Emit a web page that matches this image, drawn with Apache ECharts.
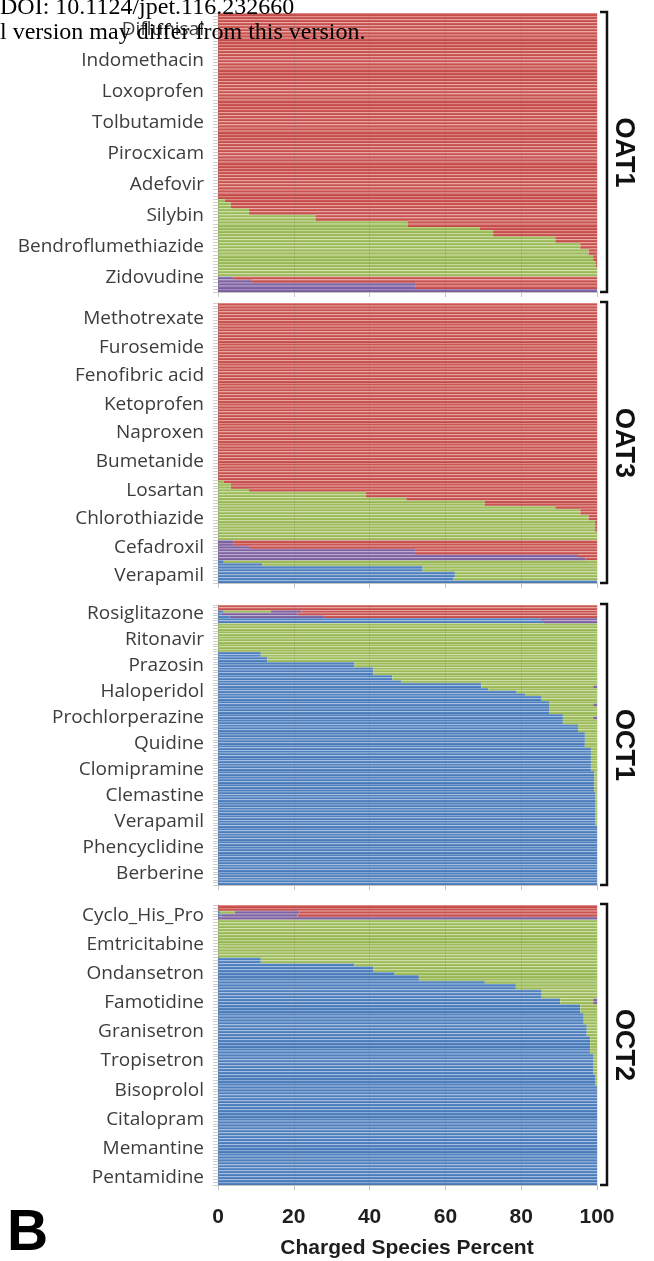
<!DOCTYPE html>
<html>
<head>
<meta charset="utf-8">
<script src="https://cdn.jsdelivr.net/npm/echarts@6/dist/echarts.min.js"></script>
<style>
  html, body { margin: 0; padding: 0; background: #ffffff; }
  #chart { width: 654px; height: 1261px; }
</style>
</head>
<body>
<div id="chart"></div>
<script>
// ---- Charged species percent per compound, one row per compound (top to bottom) ----
// Species order across each bar: cation, neutral, zwitterion, anion.

// OAT1 (90 compounds)
const oat1Labels = ['Diflunisal', 'Indomethacin', 'Loxoprofen', 'Tolbutamide', 'Pirocxicam',
  'Adefovir', 'Silybin', 'Bendroflumethiazide', 'Zidovudine'];
const oat1LabelStart = 5;
const oat1Cation = [
  0,0,0,0,0,0,0,0,0,0, 0,0,0,0,0,0,0,0,0,0, 0,0,0,0,0,0,0,0,0,0,
  0,0,0,0,0,0,0,0,0,0, 0,0,0,0,0,0,0,0,0,0, 0,0,0,0,0,0,0,0,0,0,
  0,0,0,0,0,0,0,0,0,0, 0,0,0,0,0,0,0,0,0,0, 0,0,0,0,0,0,0,0,0,0
];
const oat1Neutral = [
  0,0,0,0,0,0,0,0,0,0, 0,0,0,0,0,0,0,0,0,0, 0,0,0,0,0,0,0,0,0,0,
  0,0,0,0,0,0,0,0,0,0, 0,0,0,0,0,0,0,0,0,0, 0,0,0,0,0,0,0,0,0,0,
  1.8,3.4,3.4,8.2,8.2,25.7,25.7,50,50,69,
  72.6,72.6,89,89,95.6,95.6,97.8,97.8,99,99,
  99.6,99.6,100,100,100,0,0,0,0,0
];
const oat1Zwitterion = [
  0,0,0,0,0,0,0,0,0,0, 0,0,0,0,0,0,0,0,0,0, 0,0,0,0,0,0,0,0,0,0,
  0,0,0,0,0,0,0,0,0,0, 0,0,0,0,0,0,0,0,0,0, 0,0,0,0,0,0,0,0,0,0,
  0,0,0,0,0,0,0,0,0,0, 0,0,0,0,0,0,0,0,0,0,
  0,0,0,0,0,4,9,52,52,100
];
const oat1Anion = [
  100,100,100,100,100,100,100,100,100,100, 100,100,100,100,100,100,100,100,100,100,
  100,100,100,100,100,100,100,100,100,100, 100,100,100,100,100,100,100,100,100,100,
  100,100,100,100,100,100,100,100,100,100, 100,100,100,100,100,100,100,100,100,100,
  98.2,96.6,96.6,91.8,91.8,74.3,74.3,50,50,31,
  27.4,27.4,11,11,4.4,4.4,2.2,2.2,1,1,
  0.4,0.4,0,0,0,96,91,48,48,0
];

// OAT3 (98 compounds)
const oat3Labels = ['Methotrexate', 'Furosemide', 'Fenofibric acid', 'Ketoprofen', 'Naproxen',
  'Bumetanide', 'Losartan', 'Chlorothiazide', 'Cefadroxil', 'Verapamil'];
const oat3LabelStart = 5;
const oat3Cation = [
  0,0,0,0,0,0,0,0,0,0, 0,0,0,0,0,0,0,0,0,0, 0,0,0,0,0,0,0,0,0,0,
  0,0,0,0,0,0,0,0,0,0, 0,0,0,0,0,0,0,0,0,0, 0,0,0,0,0,0,0,0,0,0,
  0,0,0,0,0,0,0,0,0,0, 0,0,0,0,0,0,0,0,0,0, 0,0,0,0,0,0,0,0,0,0,
  1.5,11.7,54,54,62.5,62.5,62,100
];
const oat3Neutral = [
  0,0,0,0,0,0,0,0,0,0, 0,0,0,0,0,0,0,0,0,0, 0,0,0,0,0,0,0,0,0,0,
  0,0,0,0,0,0,0,0,0,0, 0,0,0,0,0,0,0,0,0,0, 0,0,0,0,0,0,0,0,0,0,
  0,0,1.5,3.4,3.4,8.2,39,39,49.7,70.4,
  70.4,89,95.6,95.6,97.8,97.8,99.5,99.5,99.5,99.5,
  100,100,100,0,0,0,0,0,0,0,
  98.5,88.3,46,46,37.5,37.5,38,0
];
const oat3Zwitterion = [
  0,0,0,0,0,0,0,0,0,0, 0,0,0,0,0,0,0,0,0,0, 0,0,0,0,0,0,0,0,0,0,
  0,0,0,0,0,0,0,0,0,0, 0,0,0,0,0,0,0,0,0,0, 0,0,0,0,0,0,0,0,0,0,
  0,0,0,0,0,0,0,0,0,0, 0,0,0,0,0,0,0,0,0,0,
  0,0,0,4,4,8.2,52,52,95,97,
  0,0,0,0,0,0,0,0
];
const oat3Anion = [
  100,100,100,100,100,100,100,100,100,100, 100,100,100,100,100,100,100,100,100,100,
  100,100,100,100,100,100,100,100,100,100, 100,100,100,100,100,100,100,100,100,100,
  100,100,100,100,100,100,100,100,100,100, 100,100,100,100,100,100,100,100,100,100,
  100,100,98.5,96.6,96.6,91.8,61,61,50.3,29.6,
  29.6,11,4.4,4.4,2.2,2.2,0.5,0.5,0.5,0.5,
  0,0,0,96,96,91.8,48,48,5,3,
  0,0,0,0,0,0,0,0
];

// OCT1 (108 compounds)
const oct1Labels = ['Rosiglitazone', 'Ritonavir', 'Prazosin', 'Haloperidol', 'Prochlorperazine',
  'Quidine', 'Clomipramine', 'Clemastine', 'Verapamil', 'Phencyclidine', 'Berberine'];
const oct1LabelStart = 3;
const oct1Cation = [
  0,0,1.5,1,3,85,86,0,0,0,
  0,0,0,0,0,0,0,0,11.3,11.3,
  13,13,36,36,41,41,41,46,46,48.4,
  69.5,69.5,71.3,78.8,81,85.4,85.4,87.5,87.5,87.5,
  87.5,87.5,91,91,91,91,95,95,95,96.8,
  96.8,96.8,96.8,96.8,96.8,98.4,98.4,98.4,98.4,98.4,
  98.4,98.4,98.4,98.4,99.3,99.3,99.3,99.3,99.3,99.3,
  99.3,99.3,99.6,99.6,99.6,99.6,99.6,99.6,99.6,99.6,
  99.6,99.6,99.6,99.6,99.6,100,100,100,100,100,
  100,100,100,100,100,100,100,100,100,100,
  100,100,100,100,100,100,100,100
];
const oct1Neutral = [
  0,0,12.5,0,0,0,0,100,100,100,
  100,100,100,100,100,100,100,100,88.7,88.7,
  87,87,64,64,59,59,59,54,54,51.6,
  30.5,29.5,28.7,21.2,19,14.6,14.6,12.5,11.5,12.5,
  12.5,12.5,9,8,9,9,5,5,5,3.2,
  3.2,3.2,3.2,3.2,3.2,1.6,1.6,1.6,1.6,1.6,
  1.6,1.6,1.6,1.6,0.7,0.7,0.7,0.7,0.7,0.7,
  0.7,0.7,0.4,0.4,0.4,0.4,0.4,0.4,0.4,0.4,
  0.4,0.4,0.4,0.4,0.4,0,0,0,0,0,
  0,0,0,0,0,0,0,0,0,0,
  0,0,0,0,0,0,0,0
];
const oct1Zwitterion = [
  0,0,8,20,25,15,14,0,0,0,
  0,0,0,0,0,0,0,0,0,0,
  0,0,0,0,0,0,0,0,0,0,
  0,1,0,0,0,0,0,0,1,0,
  0,0,0,1,0,0,0,0,0,0,
  0,0,0,0,0,0,0,0,0,0, 0,0,0,0,0,0,0,0,0,0, 0,0,0,0,0,0,0,0,0,0,
  0,0,0,0,0,0,0,0,0,0, 0,0,0,0,0,0,0,0,0,0,
  0,0,0,0,0,0,0,0
];
const oct1Anion = [
  100,100,78,79,72,0,0,0,0,0,
  0,0,0,0,0,0,0,0,0,0, 0,0,0,0,0,0,0,0,0,0, 0,0,0,0,0,0,0,0,0,0,
  0,0,0,0,0,0,0,0,0,0, 0,0,0,0,0,0,0,0,0,0, 0,0,0,0,0,0,0,0,0,0,
  0,0,0,0,0,0,0,0,0,0, 0,0,0,0,0,0,0,0,0,0, 0,0,0,0,0,0,0,0,0,0,
  0,0,0,0,0,0,0,0
];

// OCT2 (96 compounds)
const oct2Labels = ['Cyclo_His_Pro', 'Emtricitabine', 'Ondansetron', 'Famotidine', 'Granisetron',
  'Tropisetron', 'Bisoprolol', 'Citalopram', 'Memantine', 'Pentamidine'];
const oct2LabelStart = 3;
const oct2Cation = [
  0,0,0.5,1,0,0,0,0,0,0,
  0,0,0,0,0,0,0,0,11.3,11.3,
  36,40.9,40.9,46.6,53,53,70.4,78.6,78.6,85.4,
  85.4,85.4,90.3,90.3,95.6,95.6,95.6,96.5,96.5,96.5,
  96.5,97.3,97.3,97.3,97.3,98.2,98.2,98.2,98.2,98.2,
  98.2,99.1,99.1,99.1,99.1,99.1,99.1,99.1,99.5,99.5,
  99.5,99.5,100,100,100,100,100,100,100,100,
  100,100,100,100,100,100,100,100,100,100,
  100,100,100,100,100,100,100,100,100,100,
  100,100,100,100,100,100
];
const oct2Neutral = [
  0,0,4,0,0,100,100,100,100,100,
  100,100,100,100,100,100,100,100,88.7,88.7,
  64,59.1,59.1,53.4,47,47,29.6,21.4,21.4,14.6,
  14.6,14.6,8.7,8.7,4.4,4.4,4.4,3.5,3.5,3.5,
  3.5,2.7,2.7,2.7,2.7,1.8,1.8,1.8,1.8,1.8,
  1.8,0.9,0.9,0.9,0.9,0.9,0.9,0.9,0.5,0.5,
  0.5,0.5,0,0,0,0,0,0,0,0,
  0,0,0,0,0,0,0,0,0,0, 0,0,0,0,0,0,0,0,0,0,
  0,0,0,0,0,0
];
const oct2Zwitterion = [
  0,0,17,20,100,0,0,0,0,0,
  0,0,0,0,0,0,0,0,0,0, 0,0,0,0,0,0,0,0,0,0,
  0,0,1,1,0,0,0,0,0,0,
  0,0,0,0,0,0,0,0,0,0, 0,0,0,0,0,0,0,0,0,0, 0,0,0,0,0,0,0,0,0,0,
  0,0,0,0,0,0,0,0,0,0, 0,0,0,0,0,0,0,0,0,0,
  0,0,0,0,0,0
];
const oct2Anion = [
  100,100,78.5,79,0,0,0,0,0,0,
  0,0,0,0,0,0,0,0,0,0, 0,0,0,0,0,0,0,0,0,0, 0,0,0,0,0,0,0,0,0,0,
  0,0,0,0,0,0,0,0,0,0, 0,0,0,0,0,0,0,0,0,0, 0,0,0,0,0,0,0,0,0,0,
  0,0,0,0,0,0,0,0,0,0, 0,0,0,0,0,0,0,0,0,0,
  0,0,0,0,0,0
];

const xTicks = [0, 20, 40, 60, 80, 100];
const transporterNames = ['OAT1', 'OAT3', 'OCT1', 'OCT2'];
const axisTitle = 'Charged Species Percent';
const panelLetter = 'B';
const headerLines = ['DOI: 10.1124/jpet.116.232660', 'l version may differ from this version.'];

// ---- layout ----
const panels = [
  { name: transporterNames[0], labels: oat1Labels, start: oat1LabelStart,
    series: [oat1Cation, oat1Neutral, oat1Zwitterion, oat1Anion], top: 13, height: 279 },
  { name: transporterNames[1], labels: oat3Labels, start: oat3LabelStart,
    series: [oat3Cation, oat3Neutral, oat3Zwitterion, oat3Anion], top: 303, height: 280 },
  { name: transporterNames[2], labels: oct1Labels, start: oct1LabelStart,
    series: [oct1Cation, oct1Neutral, oct1Zwitterion, oct1Anion], top: 605, height: 280 },
  { name: transporterNames[3], labels: oct2Labels, start: oct2LabelStart,
    series: [oct2Cation, oct2Neutral, oct2Zwitterion, oct2Anion], top: 905, height: 280 }
];

const plotLeft = 218, plotWidth = 379;

// light edge on top, darker body, like shaded office-style bars
function shade(light, base, dark) {
  return new echarts.graphic.LinearGradient(0, 0, 0, 1, [
    { offset: 0, color: light },
    { offset: 0.4, color: base },
    { offset: 1, color: dark }
  ]);
}
const speciesStyles = [
  shade('#a9c3e6', '#5585c2', '#4675b1'),   // cation
  shade('#d3e4ad', '#a2c062', '#93b150'),   // neutral
  shade('#bfaed6', '#8468a6', '#755998'),   // zwitterion
  shade('#eeaaa8', '#cc5a57', '#bd4744')    // anion
];
const speciesNames = ['Cation', 'Neutral', 'Zwitterion', 'Anion'];

const grid = [], xAxis = [], yAxis = [], series = [], graphic = [];

panels.forEach((p, i) => {
  const n = p.series[0].length;
  const cats = [];
  for (let k = 0; k < n; k++) cats.push(String(k));

  grid.push({ left: plotLeft, width: plotWidth, top: p.top, height: p.height, containLabel: false });

  xAxis.push({
    type: 'value', gridIndex: i, min: xTicks[0], max: xTicks[xTicks.length - 1], interval: 20,
    z: 5,
    axisLine: { show: true, lineStyle: { color: '#c4c4c4', width: 1 } },
    axisTick: { show: true, length: 5, lineStyle: { color: '#c4c4c4' } },
    splitLine: { show: true, lineStyle: { color: 'rgba(90,90,90,0.14)', width: 1 } },
    axisLabel: {
      show: i === panels.length - 1, margin: 22,
      fontFamily: 'Liberation Sans', fontWeight: 'bold', fontSize: 21, color: '#1e1e1e'
    }
  });

  yAxis.push({
    type: 'category', gridIndex: i, data: cats, inverse: true,
    axisLine: { show: true, lineStyle: { color: '#c4c4c4' } },
    axisTick: { show: true, interval: 0, length: 5, lineStyle: { color: '#cdcdcd' } },
    splitLine: { show: false },
    axisLabel: {
      interval: 0, margin: 14,
      fontFamily: 'Open Sans', fontSize: 19, color: '#3c3c3c',
      formatter: (v, idx) => {
        const k = idx - p.start;
        return (k >= 0 && k % 10 === 0 && p.labels[k / 10]) ? p.labels[k / 10] : '';
      }
    }
  });

  p.series.forEach((vals, s) => {
    series.push({
      type: 'bar', name: speciesNames[s], stack: 'panel' + i,
      xAxisIndex: i, yAxisIndex: i, data: vals,
      barCategoryGap: '0%', barGap: '0%',
      itemStyle: { color: speciesStyles[s] },
      emphasis: { disabled: true }, silent: true
    });
  });

  // bracket on the right of each panel
  const bx = 607, y0 = p.top - 1, y1 = p.top + p.height;
  graphic.push({
    type: 'polyline', silent: true,
    shape: { points: [[600, y0], [bx, y0], [bx, y1], [600, y1]] },
    style: { stroke: '#111111', lineWidth: 2.5, fill: null }
  });
  graphic.push({
    type: 'text', silent: true, x: 623, y: p.top + p.height / 2, rotation: -Math.PI / 2,
    style: {
      text: p.name, x: 0, y: 0, align: 'center', verticalAlign: 'middle',
      font: 'bold 27px "Liberation Sans", Arial, sans-serif', fill: '#111111'
    }
  });
});

graphic.push({
  type: 'text', silent: true,
  style: { text: axisTitle, x: 407, y: 1248, align: 'center', verticalAlign: 'middle',
    font: 'bold 21px "Liberation Sans", Arial, sans-serif', fill: '#1e1e1e' }
});
graphic.push({
  type: 'text', silent: true,
  style: { text: panelLetter, x: 7, y: 1234, align: 'left', verticalAlign: 'middle',
    font: 'bold 57px "Liberation Sans", Arial, sans-serif', fill: '#000000' }
});
headerLines.forEach((t, k) => {
  graphic.push({
    type: 'text', silent: true, z: 100,
    style: { text: t, x: 0, y: 8 + k * 25, align: 'left', verticalAlign: 'middle',
      font: '24px "Liberation Serif", "Times New Roman", serif', fill: '#000000' }
  });
});

const chart = echarts.init(document.getElementById('chart'), null, { renderer: 'canvas' });
chart.setOption({
  animation: false,
  backgroundColor: '#ffffff',
  tooltip: { show: false },
  grid, xAxis, yAxis, series, graphic
});
</script>
</body>
</html>
